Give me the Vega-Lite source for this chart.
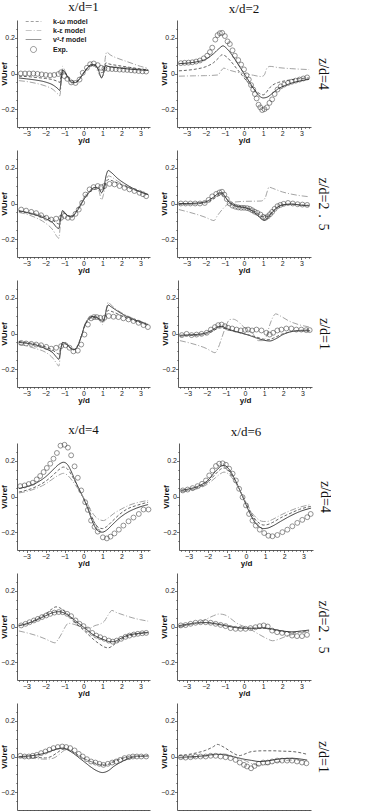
{
  "$schema": "https://vega.github.io/schema/vega-lite/v6.json",
  "background": "white",
  "padding": {"left": 0, "top": 1, "right": 0, "bottom": 0},
  "config": {
    "view": {"stroke": null},
    "font": "Liberation Sans",
    "axis": {"grid": false, "labelOverlap": false, "labelFont": "Liberation Sans", "labelFontSize": 7, "labelColor": "#222", "titleFont": "Liberation Sans", "titleFontSize": 8, "titleFontWeight": "bold", "titleColor": "#111", "domainColor": "#333", "domainWidth": 0.8, "tickColor": "#333", "tickWidth": 0.7},
    "title": {"font": "Liberation Serif", "fontSize": 13, "fontWeight": "normal", "color": "#111", "offset": 4, "anchor": "middle"}
  },
  "datasets": {
    "p11": [
      {"s":"e","x":-3.3,"v":0},{"s":"e","x":-3.08,"v":0},{"s":"e","x":-2.86,"v":0},{"s":"e","x":-2.64,"v":0},{"s":"e","x":-2.42,"v":-0.002},{"s":"e","x":-2.2,"v":-0.005},{"s":"e","x":-1.98,"v":-0.008},{"s":"e","x":-1.76,"v":-0.01},{"s":"e","x":-1.54,"v":-0.008},{"s":"e","x":-1.32,"v":-0.003},{"s":"e","x":-1.18,"v":0.007},{"s":"e","x":-1,"v":-0.015},{"s":"e","x":-0.85,"v":-0.03},{"s":"e","x":-0.65,"v":-0.05},{"s":"e","x":-0.42,"v":-0.053},{"s":"e","x":-0.21,"v":-0.034},{"s":"e","x":-0.04,"v":0.004},{"s":"e","x":0.18,"v":0.032},{"s":"e","x":0.35,"v":0.052},{"s":"e","x":0.54,"v":0.056},{"s":"e","x":0.75,"v":0.047},{"s":"e","x":0.93,"v":0.032},{"s":"e","x":1.1,"v":0.028},{"s":"e","x":1.3,"v":0.026},{"s":"e","x":1.5,"v":0.025},{"s":"e","x":1.7,"v":0.024},{"s":"e","x":1.9,"v":0.022},{"s":"e","x":2.1,"v":0.021},{"s":"e","x":2.3,"v":0.02},{"s":"e","x":2.5,"v":0.018},{"s":"e","x":2.7,"v":0.016},{"s":"e","x":2.9,"v":0.014},{"s":"e","x":3.1,"v":0.012},{"s":"e","x":3.3,"v":0.011},
      {"s":"k","x":-3.4,"v":-0.04},{"s":"k","x":-3,"v":-0.045},{"s":"k","x":-2.5,"v":-0.055},{"s":"k","x":-2,"v":-0.07},{"s":"k","x":-1.6,"v":-0.09},{"s":"k","x":-1.35,"v":-0.115},{"s":"k","x":-1.25,"v":-0.125},{"s":"k","x":-1.15,"v":-0.02},{"s":"k","x":-1.1,"v":0.04},{"s":"k","x":-1,"v":0.02},{"s":"k","x":-0.8,"v":-0.03},{"s":"k","x":-0.6,"v":-0.055},{"s":"k","x":-0.4,"v":-0.05},{"s":"k","x":-0.2,"v":-0.03},{"s":"k","x":0,"v":0},{"s":"k","x":0.2,"v":0.03},{"s":"k","x":0.4,"v":0.045},{"s":"k","x":0.6,"v":0.04},{"s":"k","x":0.8,"v":0},{"s":"k","x":0.95,"v":-0.02},{"s":"k","x":1.05,"v":-0.01},{"s":"k","x":1.15,"v":0.09},{"s":"k","x":1.22,"v":0.12},{"s":"k","x":1.4,"v":0.105},{"s":"k","x":1.8,"v":0.085},{"s":"k","x":2.2,"v":0.07},{"s":"k","x":2.6,"v":0.055},{"s":"k","x":3,"v":0.04},{"s":"k","x":3.4,"v":0.03},
      {"s":"w","x":-3.4,"v":-0.015},{"s":"w","x":-3,"v":-0.017},{"s":"w","x":-2.5,"v":-0.022},{"s":"w","x":-2,"v":-0.028},{"s":"w","x":-1.6,"v":-0.035},{"s":"w","x":-1.35,"v":-0.045},{"s":"w","x":-1.25,"v":-0.05},{"s":"w","x":-1.15,"v":0},{"s":"w","x":-1.05,"v":0.01},{"s":"w","x":-0.8,"v":-0.02},{"s":"w","x":-0.6,"v":-0.04},{"s":"w","x":-0.4,"v":-0.045},{"s":"w","x":-0.2,"v":-0.025},{"s":"w","x":0,"v":0.005},{"s":"w","x":0.2,"v":0.03},{"s":"w","x":0.4,"v":0.045},{"s":"w","x":0.6,"v":0.045},{"s":"w","x":0.8,"v":0.02},{"s":"w","x":0.95,"v":0.005},{"s":"w","x":1.05,"v":0.01},{"s":"w","x":1.18,"v":0.06},{"s":"w","x":1.3,"v":0.055},{"s":"w","x":1.8,"v":0.045},{"s":"w","x":2.4,"v":0.035},{"s":"w","x":3,"v":0.025},{"s":"w","x":3.4,"v":0.02},
      {"s":"v","x":-3.4,"v":-0.025},{"s":"v","x":-3,"v":-0.03},{"s":"v","x":-2.5,"v":-0.037},{"s":"v","x":-2,"v":-0.048},{"s":"v","x":-1.6,"v":-0.065},{"s":"v","x":-1.35,"v":-0.085},{"s":"v","x":-1.25,"v":-0.095},{"s":"v","x":-1.15,"v":-0.01},{"s":"v","x":-1.1,"v":0.02},{"s":"v","x":-1,"v":0.01},{"s":"v","x":-0.8,"v":-0.025},{"s":"v","x":-0.6,"v":-0.05},{"s":"v","x":-0.4,"v":-0.05},{"s":"v","x":-0.2,"v":-0.03},{"s":"v","x":0,"v":0},{"s":"v","x":0.2,"v":0.03},{"s":"v","x":0.4,"v":0.05},{"s":"v","x":0.6,"v":0.05},{"s":"v","x":0.8,"v":0.015},{"s":"v","x":0.95,"v":-0.025},{"s":"v","x":1.05,"v":0},{"s":"v","x":1.15,"v":0.045},{"s":"v","x":1.3,"v":0.04},{"s":"v","x":1.8,"v":0.032},{"s":"v","x":2.4,"v":0.025},{"s":"v","x":3,"v":0.02},{"s":"v","x":3.4,"v":0.017}
    ],
    "p12": [
      {"s":"e","x":-3.3,"v":0.058},{"s":"e","x":-3.1,"v":0.06},{"s":"e","x":-2.9,"v":0.061},{"s":"e","x":-2.7,"v":0.063},{"s":"e","x":-2.5,"v":0.067},{"s":"e","x":-2.3,"v":0.073},{"s":"e","x":-2.1,"v":0.085},{"s":"e","x":-1.92,"v":0.1},{"s":"e","x":-1.78,"v":0.12},{"s":"e","x":-1.66,"v":0.145},{"s":"e","x":-1.5,"v":0.19},{"s":"e","x":-1.38,"v":0.215},{"s":"e","x":-1.26,"v":0.226},{"s":"e","x":-1.14,"v":0.228},{"s":"e","x":-1,"v":0.21},{"s":"e","x":-0.86,"v":0.18},{"s":"e","x":-0.74,"v":0.165},{"s":"e","x":-0.6,"v":0.13},{"s":"e","x":-0.48,"v":0.1},{"s":"e","x":-0.3,"v":0.075},{"s":"e","x":-0.15,"v":0.05},{"s":"e","x":0,"v":0.023},{"s":"e","x":0.13,"v":-0.01},{"s":"e","x":0.25,"v":-0.034},{"s":"e","x":0.37,"v":-0.065},{"s":"e","x":0.48,"v":-0.09},{"s":"e","x":0.57,"v":-0.115},{"s":"e","x":0.66,"v":-0.14},{"s":"e","x":0.76,"v":-0.175},{"s":"e","x":0.85,"v":-0.19},{"s":"e","x":0.95,"v":-0.205},{"s":"e","x":1.07,"v":-0.2},{"s":"e","x":1.2,"v":-0.19},{"s":"e","x":1.33,"v":-0.165},{"s":"e","x":1.47,"v":-0.145},{"s":"e","x":1.6,"v":-0.115},{"s":"e","x":1.75,"v":-0.09},{"s":"e","x":1.92,"v":-0.072},{"s":"e","x":2.1,"v":-0.062},{"s":"e","x":2.3,"v":-0.053},{"s":"e","x":2.5,"v":-0.046},{"s":"e","x":2.7,"v":-0.04},{"s":"e","x":2.9,"v":-0.034},{"s":"e","x":3.1,"v":-0.028},{"s":"e","x":3.3,"v":-0.022},
      {"s":"v","x":-3.4,"v":0.055},{"s":"v","x":-3,"v":0.058},{"s":"v","x":-2.5,"v":0.065},{"s":"v","x":-2,"v":0.08},{"s":"v","x":-1.6,"v":0.11},{"s":"v","x":-1.3,"v":0.14},{"s":"v","x":-1.1,"v":0.155},{"s":"v","x":-0.9,"v":0.14},{"s":"v","x":-0.6,"v":0.1},{"s":"v","x":-0.3,"v":0.05},{"s":"v","x":0,"v":0},{"s":"v","x":0.3,"v":-0.05},{"s":"v","x":0.6,"v":-0.1},{"s":"v","x":0.85,"v":-0.13},{"s":"v","x":1,"v":-0.137},{"s":"v","x":1.2,"v":-0.133},{"s":"v","x":1.5,"v":-0.11},{"s":"v","x":1.8,"v":-0.085},{"s":"v","x":2.2,"v":-0.065},{"s":"v","x":2.6,"v":-0.05},{"s":"v","x":3,"v":-0.04},{"s":"v","x":3.4,"v":-0.032},
      {"s":"w","x":-3.4,"v":0.015},{"s":"w","x":-3,"v":0.018},{"s":"w","x":-2.5,"v":0.025},{"s":"w","x":-2,"v":0.038},{"s":"w","x":-1.6,"v":0.06},{"s":"w","x":-1.3,"v":0.09},{"s":"w","x":-1.15,"v":0.105},{"s":"w","x":-1,"v":0.1},{"s":"w","x":-0.7,"v":0.07},{"s":"w","x":-0.4,"v":0.03},{"s":"w","x":-0.1,"v":-0.01},{"s":"w","x":0.2,"v":-0.05},{"s":"w","x":0.5,"v":-0.085},{"s":"w","x":0.8,"v":-0.112},{"s":"w","x":1,"v":-0.12},{"s":"w","x":1.15,"v":-0.108},{"s":"w","x":1.3,"v":-0.085},{"s":"w","x":1.5,"v":-0.065},{"s":"w","x":1.8,"v":-0.05},{"s":"w","x":2.2,"v":-0.04},{"s":"w","x":2.8,"v":-0.03},{"s":"w","x":3.4,"v":-0.025},
      {"s":"k","x":-3.4,"v":-0.015},{"s":"k","x":-2.6,"v":-0.013},{"s":"k","x":-2,"v":-0.012},{"s":"k","x":-1.35,"v":-0.008},{"s":"k","x":-1.2,"v":0.015},{"s":"k","x":-1.05,"v":0.03},{"s":"k","x":-0.8,"v":0.02},{"s":"k","x":-0.4,"v":0.008},{"s":"k","x":0,"v":0},{"s":"k","x":0.5,"v":-0.01},{"s":"k","x":0.9,"v":-0.017},{"s":"k","x":1.05,"v":-0.01},{"s":"k","x":1.2,"v":0.03},{"s":"k","x":1.35,"v":0.04},{"s":"k","x":1.8,"v":0.033},{"s":"k","x":2.5,"v":0.027},{"s":"k","x":3.4,"v":0.022}
    ],
    "p21": [
      {"s":"e","x":-3.28,"v":-0.034},{"s":"e","x":-3.02,"v":-0.04},{"s":"e","x":-2.75,"v":-0.047},{"s":"e","x":-2.49,"v":-0.054},{"s":"e","x":-2.23,"v":-0.066},{"s":"e","x":-1.96,"v":-0.08},{"s":"e","x":-1.7,"v":-0.09},{"s":"e","x":-1.44,"v":-0.085},{"s":"e","x":-1.18,"v":-0.08},{"s":"e","x":-1,"v":-0.07},{"s":"e","x":-0.82,"v":-0.08},{"s":"e","x":-0.6,"v":-0.08},{"s":"e","x":-0.42,"v":-0.058},{"s":"e","x":-0.25,"v":-0.034},{"s":"e","x":-0.07,"v":0.004},{"s":"e","x":0.1,"v":0.05},{"s":"e","x":0.32,"v":0.079},{"s":"e","x":0.53,"v":0.092},{"s":"e","x":0.75,"v":0.098},{"s":"e","x":0.93,"v":0.092},{"s":"e","x":1.1,"v":0.098},{"s":"e","x":1.37,"v":0.11},{"s":"e","x":1.63,"v":0.107},{"s":"e","x":1.9,"v":0.098},{"s":"e","x":2.16,"v":0.088},{"s":"e","x":2.42,"v":0.079},{"s":"e","x":2.68,"v":0.07},{"s":"e","x":2.95,"v":0.06},{"s":"e","x":3.13,"v":0.052},{"s":"e","x":3.3,"v":0.041},
      {"s":"k","x":-3.4,"v":-0.05},{"s":"k","x":-3,"v":-0.06},{"s":"k","x":-2.5,"v":-0.08},{"s":"k","x":-2,"v":-0.11},{"s":"k","x":-1.6,"v":-0.15},{"s":"k","x":-1.4,"v":-0.185},{"s":"k","x":-1.3,"v":-0.195},{"s":"k","x":-1.2,"v":-0.1},{"s":"k","x":-1.1,"v":-0.04},{"s":"k","x":-1,"v":-0.05},{"s":"k","x":-0.8,"v":-0.07},{"s":"k","x":-0.6,"v":-0.075},{"s":"k","x":-0.4,"v":-0.05},{"s":"k","x":-0.2,"v":-0.01},{"s":"k","x":0,"v":0.03},{"s":"k","x":0.2,"v":0.06},{"s":"k","x":0.4,"v":0.08},{"s":"k","x":0.6,"v":0.09},{"s":"k","x":0.8,"v":0.075},{"s":"k","x":0.95,"v":0.02},{"s":"k","x":1.05,"v":0.05},{"s":"k","x":1.2,"v":0.13},{"s":"k","x":1.3,"v":0.155},{"s":"k","x":1.45,"v":0.15},{"s":"k","x":1.8,"v":0.125},{"s":"k","x":2.2,"v":0.1},{"s":"k","x":2.6,"v":0.08},{"s":"k","x":3,"v":0.065},{"s":"k","x":3.4,"v":0.05},
      {"s":"v","x":-3.4,"v":-0.04},{"s":"v","x":-3,"v":-0.05},{"s":"v","x":-2.5,"v":-0.065},{"s":"v","x":-2,"v":-0.085},{"s":"v","x":-1.6,"v":-0.11},{"s":"v","x":-1.4,"v":-0.135},{"s":"v","x":-1.3,"v":-0.14},{"s":"v","x":-1.2,"v":-0.08},{"s":"v","x":-1.1,"v":-0.04},{"s":"v","x":-1,"v":-0.05},{"s":"v","x":-0.8,"v":-0.07},{"s":"v","x":-0.6,"v":-0.075},{"s":"v","x":-0.4,"v":-0.05},{"s":"v","x":-0.2,"v":-0.02},{"s":"v","x":0,"v":0.02},{"s":"v","x":0.2,"v":0.05},{"s":"v","x":0.4,"v":0.075},{"s":"v","x":0.6,"v":0.09},{"s":"v","x":0.8,"v":0.085},{"s":"v","x":0.95,"v":0.06},{"s":"v","x":1.05,"v":0.08},{"s":"v","x":1.2,"v":0.16},{"s":"v","x":1.3,"v":0.185},{"s":"v","x":1.45,"v":0.175},{"s":"v","x":1.8,"v":0.14},{"s":"v","x":2.2,"v":0.11},{"s":"v","x":2.6,"v":0.085},{"s":"v","x":3,"v":0.065},{"s":"v","x":3.4,"v":0.05},
      {"s":"w","x":-3.4,"v":-0.045},{"s":"w","x":-3,"v":-0.05},{"s":"w","x":-2.5,"v":-0.06},{"s":"w","x":-2,"v":-0.075},{"s":"w","x":-1.6,"v":-0.095},{"s":"w","x":-1.4,"v":-0.11},{"s":"w","x":-1.3,"v":-0.115},{"s":"w","x":-1.2,"v":-0.07},{"s":"w","x":-1.1,"v":-0.05},{"s":"w","x":-1,"v":-0.055},{"s":"w","x":-0.8,"v":-0.07},{"s":"w","x":-0.6,"v":-0.07},{"s":"w","x":-0.4,"v":-0.045},{"s":"w","x":-0.2,"v":-0.015},{"s":"w","x":0,"v":0.02},{"s":"w","x":0.2,"v":0.05},{"s":"w","x":0.4,"v":0.07},{"s":"w","x":0.6,"v":0.08},{"s":"w","x":0.8,"v":0.08},{"s":"w","x":0.95,"v":0.07},{"s":"w","x":1.05,"v":0.075},{"s":"w","x":1.2,"v":0.12},{"s":"w","x":1.3,"v":0.135},{"s":"w","x":1.45,"v":0.13},{"s":"w","x":1.8,"v":0.115},{"s":"w","x":2.2,"v":0.095},{"s":"w","x":2.6,"v":0.08},{"s":"w","x":3,"v":0.065},{"s":"w","x":3.4,"v":0.05}
    ],
    "p22": [
      {"s":"e","x":-3.3,"v":0},{"s":"e","x":-3.05,"v":0},{"s":"e","x":-2.8,"v":0},{"s":"e","x":-2.55,"v":0},{"s":"e","x":-2.3,"v":0},{"s":"e","x":-2.05,"v":0.003},{"s":"e","x":-1.85,"v":0.02},{"s":"e","x":-1.66,"v":0.04},{"s":"e","x":-1.45,"v":0.054},{"s":"e","x":-1.28,"v":0.062},{"s":"e","x":-1.15,"v":0.066},{"s":"e","x":-1.03,"v":0.05},{"s":"e","x":-0.9,"v":0.025},{"s":"e","x":-0.75,"v":0},{"s":"e","x":-0.6,"v":-0.012},{"s":"e","x":-0.45,"v":-0.018},{"s":"e","x":-0.3,"v":-0.022},{"s":"e","x":-0.15,"v":-0.024},{"s":"e","x":0,"v":-0.024},{"s":"e","x":0.16,"v":-0.026},{"s":"e","x":0.3,"v":-0.03},{"s":"e","x":0.43,"v":-0.038},{"s":"e","x":0.56,"v":-0.046},{"s":"e","x":0.7,"v":-0.053},{"s":"e","x":0.86,"v":-0.062},{"s":"e","x":1,"v":-0.075},{"s":"e","x":1.12,"v":-0.08},{"s":"e","x":1.24,"v":-0.072},{"s":"e","x":1.36,"v":-0.06},{"s":"e","x":1.47,"v":-0.047},{"s":"e","x":1.6,"v":-0.03},{"s":"e","x":1.75,"v":-0.015},{"s":"e","x":1.9,"v":-0.008},{"s":"e","x":2.07,"v":-0.002},{"s":"e","x":2.3,"v":0.003},{"s":"e","x":2.55,"v":0},{"s":"e","x":2.8,"v":-0.004},{"s":"e","x":3.05,"v":-0.006},{"s":"e","x":3.3,"v":-0.008},
      {"s":"v","x":-3.4,"v":0},{"s":"v","x":-3,"v":0},{"s":"v","x":-2.5,"v":0.002},{"s":"v","x":-2,"v":0.01},{"s":"v","x":-1.6,"v":0.035},{"s":"v","x":-1.3,"v":0.058},{"s":"v","x":-1.15,"v":0.06},{"s":"v","x":-1,"v":0.04},{"s":"v","x":-0.8,"v":0.01},{"s":"v","x":-0.5,"v":-0.012},{"s":"v","x":-0.2,"v":-0.02},{"s":"v","x":0.1,"v":-0.025},{"s":"v","x":0.4,"v":-0.04},{"s":"v","x":0.7,"v":-0.065},{"s":"v","x":0.95,"v":-0.09},{"s":"v","x":1.05,"v":-0.095},{"s":"v","x":1.2,"v":-0.085},{"s":"v","x":1.4,"v":-0.06},{"s":"v","x":1.7,"v":-0.025},{"s":"v","x":2,"v":-0.008},{"s":"v","x":2.5,"v":-0.003},{"s":"v","x":3,"v":-0.01},{"s":"v","x":3.4,"v":-0.013},
      {"s":"w","x":-3.4,"v":-0.005},{"s":"w","x":-2.5,"v":-0.002},{"s":"w","x":-2,"v":0.005},{"s":"w","x":-1.6,"v":0.025},{"s":"w","x":-1.3,"v":0.045},{"s":"w","x":-1.15,"v":0.048},{"s":"w","x":-1,"v":0.035},{"s":"w","x":-0.7,"v":0.005},{"s":"w","x":-0.4,"v":-0.012},{"s":"w","x":0,"v":-0.02},{"s":"w","x":0.4,"v":-0.035},{"s":"w","x":0.7,"v":-0.055},{"s":"w","x":1,"v":-0.075},{"s":"w","x":1.15,"v":-0.075},{"s":"w","x":1.4,"v":-0.055},{"s":"w","x":1.7,"v":-0.025},{"s":"w","x":2,"v":-0.01},{"s":"w","x":2.5,"v":-0.005},{"s":"w","x":3,"v":-0.008},{"s":"w","x":3.4,"v":-0.01},
      {"s":"k","x":-3.4,"v":-0.034},{"s":"k","x":-3,"v":-0.045},{"s":"k","x":-2.5,"v":-0.06},{"s":"k","x":-2,"v":-0.078},{"s":"k","x":-1.75,"v":-0.09},{"s":"k","x":-1.57,"v":-0.096},{"s":"k","x":-1.4,"v":-0.07},{"s":"k","x":-1.14,"v":-0.034},{"s":"k","x":-0.88,"v":-0.006},{"s":"k","x":-0.5,"v":0.008},{"s":"k","x":0,"v":0.012},{"s":"k","x":0.5,"v":0.013},{"s":"k","x":0.9,"v":0.014},{"s":"k","x":1.1,"v":0.03},{"s":"k","x":1.22,"v":0.07},{"s":"k","x":1.3,"v":0.092},{"s":"k","x":1.5,"v":0.085},{"s":"k","x":2,"v":0.065},{"s":"k","x":2.5,"v":0.052},{"s":"k","x":3,"v":0.043},{"s":"k","x":3.4,"v":0.038}
    ],
    "p31": [
      {"s":"e","x":-3.28,"v":-0.053},{"s":"e","x":-3.02,"v":-0.056},{"s":"e","x":-2.75,"v":-0.058},{"s":"e","x":-2.49,"v":-0.062},{"s":"e","x":-2.23,"v":-0.066},{"s":"e","x":-1.96,"v":-0.075},{"s":"e","x":-1.7,"v":-0.085},{"s":"e","x":-1.44,"v":-0.08},{"s":"e","x":-1.18,"v":-0.071},{"s":"e","x":-0.95,"v":-0.066},{"s":"e","x":-0.74,"v":-0.08},{"s":"e","x":-0.53,"v":-0.1},{"s":"e","x":-0.3,"v":-0.096},{"s":"e","x":-0.12,"v":-0.062},{"s":"e","x":0.05,"v":-0.006},{"s":"e","x":0.23,"v":0.05},{"s":"e","x":0.4,"v":0.085},{"s":"e","x":0.55,"v":0.092},{"s":"e","x":0.7,"v":0.092},{"s":"e","x":0.88,"v":0.088},{"s":"e","x":1.1,"v":0.088},{"s":"e","x":1.33,"v":0.098},{"s":"e","x":1.58,"v":0.094},{"s":"e","x":1.84,"v":0.092},{"s":"e","x":2.1,"v":0.085},{"s":"e","x":2.37,"v":0.079},{"s":"e","x":2.63,"v":0.07},{"s":"e","x":2.9,"v":0.06},{"s":"e","x":3.16,"v":0.047},{"s":"e","x":3.39,"v":0.036},
      {"s":"k","x":-3.4,"v":-0.06},{"s":"k","x":-3,"v":-0.07},{"s":"k","x":-2.5,"v":-0.085},{"s":"k","x":-2,"v":-0.105},{"s":"k","x":-1.6,"v":-0.14},{"s":"k","x":-1.4,"v":-0.17},{"s":"k","x":-1.3,"v":-0.183},{"s":"k","x":-1.2,"v":-0.1},{"s":"k","x":-1.1,"v":-0.05},{"s":"k","x":-0.95,"v":-0.05},{"s":"k","x":-0.7,"v":-0.08},{"s":"k","x":-0.5,"v":-0.095},{"s":"k","x":-0.3,"v":-0.07},{"s":"k","x":-0.1,"v":-0.01},{"s":"k","x":0.1,"v":0.06},{"s":"k","x":0.3,"v":0.09},{"s":"k","x":0.5,"v":0.095},{"s":"k","x":0.7,"v":0.09},{"s":"k","x":0.9,"v":0.065},{"s":"k","x":1,"v":0.05},{"s":"k","x":1.1,"v":0.075},{"s":"k","x":1.22,"v":0.15},{"s":"k","x":1.3,"v":0.175},{"s":"k","x":1.45,"v":0.16},{"s":"k","x":1.8,"v":0.13},{"s":"k","x":2.2,"v":0.105},{"s":"k","x":2.6,"v":0.085},{"s":"k","x":3,"v":0.068},{"s":"k","x":3.4,"v":0.055},
      {"s":"v","x":-3.4,"v":-0.05},{"s":"v","x":-3,"v":-0.055},{"s":"v","x":-2.5,"v":-0.065},{"s":"v","x":-2,"v":-0.085},{"s":"v","x":-1.6,"v":-0.11},{"s":"v","x":-1.4,"v":-0.135},{"s":"v","x":-1.3,"v":-0.145},{"s":"v","x":-1.2,"v":-0.09},{"s":"v","x":-1.1,"v":-0.05},{"s":"v","x":-0.95,"v":-0.055},{"s":"v","x":-0.7,"v":-0.08},{"s":"v","x":-0.5,"v":-0.09},{"s":"v","x":-0.3,"v":-0.07},{"s":"v","x":-0.1,"v":-0.01},{"s":"v","x":0.1,"v":0.055},{"s":"v","x":0.3,"v":0.085},{"s":"v","x":0.5,"v":0.095},{"s":"v","x":0.7,"v":0.09},{"s":"v","x":0.9,"v":0.075},{"s":"v","x":1,"v":0.065},{"s":"v","x":1.1,"v":0.085},{"s":"v","x":1.22,"v":0.14},{"s":"v","x":1.3,"v":0.16},{"s":"v","x":1.45,"v":0.15},{"s":"v","x":1.8,"v":0.125},{"s":"v","x":2.2,"v":0.1},{"s":"v","x":2.6,"v":0.08},{"s":"v","x":3,"v":0.065},{"s":"v","x":3.4,"v":0.05},
      {"s":"w","x":-3.4,"v":-0.045},{"s":"w","x":-3,"v":-0.05},{"s":"w","x":-2.5,"v":-0.06},{"s":"w","x":-2,"v":-0.075},{"s":"w","x":-1.6,"v":-0.095},{"s":"w","x":-1.4,"v":-0.11},{"s":"w","x":-1.3,"v":-0.115},{"s":"w","x":-1.2,"v":-0.08},{"s":"w","x":-1.1,"v":-0.06},{"s":"w","x":-0.95,"v":-0.06},{"s":"w","x":-0.7,"v":-0.08},{"s":"w","x":-0.5,"v":-0.09},{"s":"w","x":-0.3,"v":-0.065},{"s":"w","x":-0.1,"v":-0.01},{"s":"w","x":0.1,"v":0.05},{"s":"w","x":0.3,"v":0.08},{"s":"w","x":0.5,"v":0.09},{"s":"w","x":0.7,"v":0.088},{"s":"w","x":0.9,"v":0.078},{"s":"w","x":1,"v":0.072},{"s":"w","x":1.1,"v":0.085},{"s":"w","x":1.22,"v":0.12},{"s":"w","x":1.3,"v":0.13},{"s":"w","x":1.45,"v":0.125},{"s":"w","x":1.8,"v":0.11},{"s":"w","x":2.2,"v":0.09},{"s":"w","x":2.6,"v":0.075},{"s":"w","x":3,"v":0.06},{"s":"w","x":3.4,"v":0.048}
    ],
    "p32": [
      {"s":"e","x":-3.3,"v":-0.009},{"s":"e","x":-3.05,"v":-0.002},{"s":"e","x":-2.79,"v":-0.009},{"s":"e","x":-2.53,"v":-0.006},{"s":"e","x":-2.27,"v":-0.002},{"s":"e","x":-2,"v":0.004},{"s":"e","x":-1.78,"v":0.022},{"s":"e","x":-1.57,"v":0.036},{"s":"e","x":-1.4,"v":0.047},{"s":"e","x":-1.22,"v":0.05},{"s":"e","x":-1.05,"v":0.041},{"s":"e","x":-0.88,"v":0.032},{"s":"e","x":-0.67,"v":0.028},{"s":"e","x":-0.44,"v":0.022},{"s":"e","x":-0.22,"v":0.017},{"s":"e","x":0,"v":0.02},{"s":"e","x":0.16,"v":0.022},{"s":"e","x":0.37,"v":0.017},{"s":"e","x":0.6,"v":0.022},{"s":"e","x":0.86,"v":0.017},{"s":"e","x":1.12,"v":0.004},{"s":"e","x":1.29,"v":-0.006},{"s":"e","x":1.47,"v":0.004},{"s":"e","x":1.69,"v":0.017},{"s":"e","x":1.9,"v":0.022},{"s":"e","x":2.16,"v":0.028},{"s":"e","x":2.42,"v":0.028},{"s":"e","x":2.68,"v":0.022},{"s":"e","x":2.94,"v":0.022},{"s":"e","x":3.2,"v":0.019},{"s":"e","x":3.38,"v":0.019},
      {"s":"v","x":-3.4,"v":-0.01},{"s":"v","x":-3,"v":-0.008},{"s":"v","x":-2.5,"v":-0.005},{"s":"v","x":-2,"v":0.005},{"s":"v","x":-1.7,"v":0.02},{"s":"v","x":-1.4,"v":0.038},{"s":"v","x":-1.2,"v":0.04},{"s":"v","x":-1,"v":0.03},{"s":"v","x":-0.6,"v":0.015},{"s":"v","x":-0.2,"v":0.003},{"s":"v","x":0.2,"v":-0.01},{"s":"v","x":0.6,"v":-0.025},{"s":"v","x":1,"v":-0.038},{"s":"v","x":1.3,"v":-0.042},{"s":"v","x":1.6,"v":-0.03},{"s":"v","x":2,"v":-0.005},{"s":"v","x":2.4,"v":0.01},{"s":"v","x":2.8,"v":0.015},{"s":"v","x":3.4,"v":0.015},
      {"s":"w","x":-3.4,"v":-0.015},{"s":"w","x":-3,"v":-0.012},{"s":"w","x":-2.5,"v":-0.01},{"s":"w","x":-2,"v":-0.002},{"s":"w","x":-1.7,"v":0.012},{"s":"w","x":-1.4,"v":0.03},{"s":"w","x":-1.2,"v":0.032},{"s":"w","x":-1,"v":0.025},{"s":"w","x":-0.6,"v":0.012},{"s":"w","x":-0.2,"v":0.002},{"s":"w","x":0.2,"v":-0.008},{"s":"w","x":0.6,"v":-0.02},{"s":"w","x":0.9,"v":-0.03},{"s":"w","x":1.2,"v":-0.035},{"s":"w","x":1.5,"v":-0.025},{"s":"w","x":1.9,"v":-0.005},{"s":"w","x":2.4,"v":0.01},{"s":"w","x":2.9,"v":0.018},{"s":"w","x":3.4,"v":0.02},
      {"s":"k","x":-3.4,"v":-0.04},{"s":"k","x":-3,"v":-0.05},{"s":"k","x":-2.5,"v":-0.065},{"s":"k","x":-2,"v":-0.085},{"s":"k","x":-1.75,"v":-0.1},{"s":"k","x":-1.57,"v":-0.108},{"s":"k","x":-1.4,"v":-0.08},{"s":"k","x":-1.2,"v":-0.02},{"s":"k","x":-1,"v":0.04},{"s":"k","x":-0.8,"v":0.078},{"s":"k","x":-0.6,"v":0.08},{"s":"k","x":-0.4,"v":0.07},{"s":"k","x":-0.1,"v":0.04},{"s":"k","x":0.1,"v":0.02},{"s":"k","x":0.35,"v":0.008},{"s":"k","x":0.7,"v":-0.04},{"s":"k","x":0.9,"v":-0.04},{"s":"k","x":1.1,"v":-0.02},{"s":"k","x":1.3,"v":0.05},{"s":"k","x":1.45,"v":0.09},{"s":"k","x":1.6,"v":0.11},{"s":"k","x":1.9,"v":0.095},{"s":"k","x":2.3,"v":0.07},{"s":"k","x":2.8,"v":0.05},{"s":"k","x":3.4,"v":0.036}
    ],
    "p41": [
      {"s":"e","x":-3.33,"v":0.058},{"s":"e","x":-3.1,"v":0.062},{"s":"e","x":-2.88,"v":0.07},{"s":"e","x":-2.67,"v":0.077},{"s":"e","x":-2.46,"v":0.096},{"s":"e","x":-2.28,"v":0.115},{"s":"e","x":-2.1,"v":0.137},{"s":"e","x":-1.93,"v":0.16},{"s":"e","x":-1.75,"v":0.184},{"s":"e","x":-1.58,"v":0.212},{"s":"e","x":-1.4,"v":0.244},{"s":"e","x":-1.21,"v":0.285},{"s":"e","x":-1,"v":0.29},{"s":"e","x":-0.82,"v":0.274},{"s":"e","x":-0.65,"v":0.231},{"s":"e","x":-0.47,"v":0.169},{"s":"e","x":-0.3,"v":0.105},{"s":"e","x":-0.12,"v":0.034},{"s":"e","x":0.09,"v":-0.032},{"s":"e","x":0.23,"v":-0.075},{"s":"e","x":0.4,"v":-0.135},{"s":"e","x":0.58,"v":-0.17},{"s":"e","x":0.75,"v":-0.197},{"s":"e","x":1.02,"v":-0.229},{"s":"e","x":1.23,"v":-0.235},{"s":"e","x":1.42,"v":-0.225},{"s":"e","x":1.63,"v":-0.207},{"s":"e","x":1.86,"v":-0.186},{"s":"e","x":2.1,"v":-0.163},{"s":"e","x":2.37,"v":-0.139},{"s":"e","x":2.63,"v":-0.118},{"s":"e","x":2.91,"v":-0.098},{"s":"e","x":3.16,"v":-0.073},{"s":"e","x":3.42,"v":-0.073},
      {"s":"v","x":-3.4,"v":0.045},{"s":"v","x":-3,"v":0.055},{"s":"v","x":-2.5,"v":0.075},{"s":"v","x":-2,"v":0.11},{"s":"v","x":-1.6,"v":0.15},{"s":"v","x":-1.3,"v":0.18},{"s":"v","x":-1.05,"v":0.192},{"s":"v","x":-0.85,"v":0.18},{"s":"v","x":-0.6,"v":0.13},{"s":"v","x":-0.4,"v":0.08},{"s":"v","x":-0.2,"v":0.035},{"s":"v","x":0,"v":-0.01},{"s":"v","x":0.2,"v":-0.06},{"s":"v","x":0.4,"v":-0.12},{"s":"v","x":0.6,"v":-0.17},{"s":"v","x":0.8,"v":-0.195},{"s":"v","x":1,"v":-0.2},{"s":"v","x":1.2,"v":-0.19},{"s":"v","x":1.5,"v":-0.16},{"s":"v","x":1.9,"v":-0.12},{"s":"v","x":2.3,"v":-0.09},{"s":"v","x":2.8,"v":-0.065},{"s":"v","x":3.4,"v":-0.045},
      {"s":"w","x":-3.4,"v":0.025},{"s":"w","x":-3,"v":0.035},{"s":"w","x":-2.5,"v":0.055},{"s":"w","x":-2,"v":0.085},{"s":"w","x":-1.6,"v":0.12},{"s":"w","x":-1.3,"v":0.15},{"s":"w","x":-1.05,"v":0.165},{"s":"w","x":-0.85,"v":0.155},{"s":"w","x":-0.6,"v":0.115},{"s":"w","x":-0.4,"v":0.075},{"s":"w","x":-0.2,"v":0.03},{"s":"w","x":0,"v":-0.01},{"s":"w","x":0.2,"v":-0.055},{"s":"w","x":0.4,"v":-0.105},{"s":"w","x":0.6,"v":-0.15},{"s":"w","x":0.8,"v":-0.175},{"s":"w","x":1,"v":-0.18},{"s":"w","x":1.2,"v":-0.17},{"s":"w","x":1.5,"v":-0.14},{"s":"w","x":1.9,"v":-0.1},{"s":"w","x":2.3,"v":-0.07},{"s":"w","x":2.8,"v":-0.05},{"s":"w","x":3.4,"v":-0.032},
      {"s":"k","x":-3.4,"v":0.02},{"s":"k","x":-3,"v":0.028},{"s":"k","x":-2.5,"v":0.045},{"s":"k","x":-2,"v":0.07},{"s":"k","x":-1.6,"v":0.1},{"s":"k","x":-1.3,"v":0.12},{"s":"k","x":-1.05,"v":0.13},{"s":"k","x":-0.85,"v":0.12},{"s":"k","x":-0.6,"v":0.09},{"s":"k","x":-0.4,"v":0.06},{"s":"k","x":-0.2,"v":0.03},{"s":"k","x":0,"v":-0.005},{"s":"k","x":0.2,"v":-0.04},{"s":"k","x":0.4,"v":-0.08},{"s":"k","x":0.6,"v":-0.11},{"s":"k","x":0.85,"v":-0.13},{"s":"k","x":1.05,"v":-0.135},{"s":"k","x":1.3,"v":-0.12},{"s":"k","x":1.6,"v":-0.095},{"s":"k","x":2,"v":-0.07},{"s":"k","x":2.5,"v":-0.045},{"s":"k","x":3,"v":-0.03},{"s":"k","x":3.4,"v":-0.022}
    ],
    "p42": [
      {"s":"e","x":-3.3,"v":0.034},{"s":"e","x":-3.05,"v":0.039},{"s":"e","x":-2.79,"v":0.047},{"s":"e","x":-2.53,"v":0.058},{"s":"e","x":-2.3,"v":0.071},{"s":"e","x":-2.09,"v":0.09},{"s":"e","x":-1.92,"v":0.118},{"s":"e","x":-1.75,"v":0.146},{"s":"e","x":-1.57,"v":0.171},{"s":"e","x":-1.4,"v":0.184},{"s":"e","x":-1.22,"v":0.186},{"s":"e","x":-1.05,"v":0.178},{"s":"e","x":-0.88,"v":0.156},{"s":"e","x":-0.7,"v":0.128},{"s":"e","x":-0.53,"v":0.09},{"s":"e","x":-0.36,"v":0.043},{"s":"e","x":-0.18,"v":-0.004},{"s":"e","x":0,"v":-0.05},{"s":"e","x":0.16,"v":-0.098},{"s":"e","x":0.34,"v":-0.135},{"s":"e","x":0.51,"v":-0.163},{"s":"e","x":0.72,"v":-0.186},{"s":"e","x":0.95,"v":-0.205},{"s":"e","x":1.17,"v":-0.22},{"s":"e","x":1.38,"v":-0.223},{"s":"e","x":1.64,"v":-0.216},{"s":"e","x":1.9,"v":-0.2},{"s":"e","x":2.16,"v":-0.186},{"s":"e","x":2.42,"v":-0.167},{"s":"e","x":2.68,"v":-0.148},{"s":"e","x":2.94,"v":-0.131},{"s":"e","x":3.2,"v":-0.116},{"s":"e","x":3.38,"v":-0.098},
      {"s":"v","x":-3.4,"v":0.035},{"s":"v","x":-3,"v":0.042},{"s":"v","x":-2.5,"v":0.058},{"s":"v","x":-2,"v":0.09},{"s":"v","x":-1.6,"v":0.14},{"s":"v","x":-1.3,"v":0.17},{"s":"v","x":-1.15,"v":0.175},{"s":"v","x":-0.9,"v":0.155},{"s":"v","x":-0.6,"v":0.1},{"s":"v","x":-0.3,"v":0.03},{"s":"v","x":-0.1,"v":-0.02},{"s":"v","x":0.1,"v":-0.07},{"s":"v","x":0.3,"v":-0.115},{"s":"v","x":0.5,"v":-0.15},{"s":"v","x":0.7,"v":-0.17},{"s":"v","x":0.9,"v":-0.18},{"s":"v","x":1.1,"v":-0.178},{"s":"v","x":1.4,"v":-0.165},{"s":"v","x":1.8,"v":-0.14},{"s":"v","x":2.3,"v":-0.11},{"s":"v","x":2.8,"v":-0.085},{"s":"v","x":3.4,"v":-0.065},
      {"s":"w","x":-3.4,"v":0.03},{"s":"w","x":-3,"v":0.037},{"s":"w","x":-2.5,"v":0.052},{"s":"w","x":-2,"v":0.08},{"s":"w","x":-1.6,"v":0.125},{"s":"w","x":-1.3,"v":0.155},{"s":"w","x":-1.15,"v":0.16},{"s":"w","x":-0.9,"v":0.145},{"s":"w","x":-0.6,"v":0.095},{"s":"w","x":-0.3,"v":0.03},{"s":"w","x":-0.1,"v":-0.015},{"s":"w","x":0.1,"v":-0.06},{"s":"w","x":0.3,"v":-0.1},{"s":"w","x":0.5,"v":-0.13},{"s":"w","x":0.7,"v":-0.15},{"s":"w","x":0.9,"v":-0.16},{"s":"w","x":1.1,"v":-0.158},{"s":"w","x":1.4,"v":-0.145},{"s":"w","x":1.8,"v":-0.12},{"s":"w","x":2.3,"v":-0.095},{"s":"w","x":2.8,"v":-0.072},{"s":"w","x":3.4,"v":-0.055},
      {"s":"k","x":-3.4,"v":0.025},{"s":"k","x":-3,"v":0.032},{"s":"k","x":-2.5,"v":0.045},{"s":"k","x":-2,"v":0.07},{"s":"k","x":-1.6,"v":0.105},{"s":"k","x":-1.3,"v":0.13},{"s":"k","x":-1.15,"v":0.137},{"s":"k","x":-0.9,"v":0.125},{"s":"k","x":-0.6,"v":0.085},{"s":"k","x":-0.3,"v":0.03},{"s":"k","x":-0.1,"v":-0.01},{"s":"k","x":0.1,"v":-0.05},{"s":"k","x":0.3,"v":-0.09},{"s":"k","x":0.5,"v":-0.115},{"s":"k","x":0.7,"v":-0.133},{"s":"k","x":0.9,"v":-0.14},{"s":"k","x":1.1,"v":-0.14},{"s":"k","x":1.4,"v":-0.128},{"s":"k","x":1.8,"v":-0.105},{"s":"k","x":2.3,"v":-0.08},{"s":"k","x":2.8,"v":-0.06},{"s":"k","x":3.4,"v":-0.045}
    ],
    "p51": [
      {"s":"e","x":-3.28,"v":0.006},{"s":"e","x":-3.05,"v":0.015},{"s":"e","x":-2.84,"v":0.024},{"s":"e","x":-2.61,"v":0.034},{"s":"e","x":-2.4,"v":0.043},{"s":"e","x":-2.18,"v":0.053},{"s":"e","x":-1.96,"v":0.062},{"s":"e","x":-1.75,"v":0.071},{"s":"e","x":-1.53,"v":0.078},{"s":"e","x":-1.3,"v":0.081},{"s":"e","x":-1.09,"v":0.08},{"s":"e","x":-0.86,"v":0.071},{"s":"e","x":-0.65,"v":0.058},{"s":"e","x":-0.42,"v":0.034},{"s":"e","x":-0.21,"v":0.015},{"s":"e","x":0,"v":0.002},{"s":"e","x":0.23,"v":-0.017},{"s":"e","x":0.46,"v":-0.036},{"s":"e","x":0.67,"v":-0.051},{"s":"e","x":0.88,"v":-0.06},{"s":"e","x":1.1,"v":-0.069},{"s":"e","x":1.33,"v":-0.079},{"s":"e","x":1.54,"v":-0.085},{"s":"e","x":1.75,"v":-0.079},{"s":"e","x":1.98,"v":-0.069},{"s":"e","x":2.21,"v":-0.058},{"s":"e","x":2.42,"v":-0.051},{"s":"e","x":2.65,"v":-0.045},{"s":"e","x":2.86,"v":-0.041},{"s":"e","x":3.09,"v":-0.038},{"s":"e","x":3.3,"v":-0.036},
      {"s":"v","x":-3.4,"v":0.005},{"s":"v","x":-3,"v":0.015},{"s":"v","x":-2.5,"v":0.035},{"s":"v","x":-2,"v":0.06},{"s":"v","x":-1.6,"v":0.078},{"s":"v","x":-1.3,"v":0.083},{"s":"v","x":-1,"v":0.075},{"s":"v","x":-0.7,"v":0.055},{"s":"v","x":-0.4,"v":0.03},{"s":"v","x":-0.1,"v":0.005},{"s":"v","x":0.2,"v":-0.02},{"s":"v","x":0.5,"v":-0.045},{"s":"v","x":0.8,"v":-0.062},{"s":"v","x":1.1,"v":-0.075},{"s":"v","x":1.4,"v":-0.085},{"s":"v","x":1.6,"v":-0.085},{"s":"v","x":1.9,"v":-0.07},{"s":"v","x":2.3,"v":-0.05},{"s":"v","x":2.8,"v":-0.04},{"s":"v","x":3.4,"v":-0.033},
      {"s":"w","x":-3.4,"v":0.005},{"s":"w","x":-3,"v":0.015},{"s":"w","x":-2.5,"v":0.04},{"s":"w","x":-2,"v":0.07},{"s":"w","x":-1.7,"v":0.095},{"s":"w","x":-1.45,"v":0.11},{"s":"w","x":-1.25,"v":0.105},{"s":"w","x":-1,"v":0.085},{"s":"w","x":-0.7,"v":0.055},{"s":"w","x":-0.4,"v":0.02},{"s":"w","x":-0.1,"v":-0.01},{"s":"w","x":0.2,"v":-0.04},{"s":"w","x":0.5,"v":-0.07},{"s":"w","x":0.8,"v":-0.095},{"s":"w","x":1.1,"v":-0.115},{"s":"w","x":1.3,"v":-0.12},{"s":"w","x":1.5,"v":-0.11},{"s":"w","x":1.8,"v":-0.085},{"s":"w","x":2.2,"v":-0.06},{"s":"w","x":2.7,"v":-0.045},{"s":"w","x":3.4,"v":-0.035},
      {"s":"k","x":-3.4,"v":-0.025},{"s":"k","x":-3,"v":-0.035},{"s":"k","x":-2.5,"v":-0.05},{"s":"k","x":-2,"v":-0.07},{"s":"k","x":-1.7,"v":-0.085},{"s":"k","x":-1.5,"v":-0.092},{"s":"k","x":-1.35,"v":-0.075},{"s":"k","x":-1.15,"v":-0.04},{"s":"k","x":-0.95,"v":0},{"s":"k","x":-0.8,"v":0.018},{"s":"k","x":-0.6,"v":0.015},{"s":"k","x":-0.3,"v":0.005},{"s":"k","x":0,"v":-0.005},{"s":"k","x":0.3,"v":-0.01},{"s":"k","x":0.6,"v":0.005},{"s":"k","x":0.9,"v":0.015},{"s":"k","x":1.1,"v":0.03},{"s":"k","x":1.3,"v":0.065},{"s":"k","x":1.5,"v":0.09},{"s":"k","x":1.7,"v":0.08},{"s":"k","x":2.1,"v":0.065},{"s":"k","x":2.6,"v":0.048},{"s":"k","x":3,"v":0.038},{"s":"k","x":3.4,"v":0.03}
    ],
    "p52": [
      {"s":"e","x":-3.3,"v":0.006},{"s":"e","x":-3.05,"v":0.008},{"s":"e","x":-2.79,"v":0.015},{"s":"e","x":-2.53,"v":0.021},{"s":"e","x":-2.27,"v":0.024},{"s":"e","x":-2,"v":0.024},{"s":"e","x":-1.74,"v":0.021},{"s":"e","x":-1.48,"v":0.015},{"s":"e","x":-1.22,"v":0.009},{"s":"e","x":-0.96,"v":0.002},{"s":"e","x":-0.7,"v":-0.009},{"s":"e","x":-0.44,"v":-0.013},{"s":"e","x":-0.18,"v":-0.013},{"s":"e","x":0.08,"v":-0.013},{"s":"e","x":0.34,"v":-0.009},{"s":"e","x":0.6,"v":-0.004},{"s":"e","x":0.82,"v":0.002},{"s":"e","x":1.03,"v":0.006},{"s":"e","x":1.24,"v":0},{"s":"e","x":1.47,"v":-0.023},{"s":"e","x":1.73,"v":-0.032},{"s":"e","x":1.99,"v":-0.036},{"s":"e","x":2.25,"v":-0.041},{"s":"e","x":2.51,"v":-0.051},{"s":"e","x":2.77,"v":-0.054},{"s":"e","x":3.03,"v":-0.054},{"s":"e","x":3.29,"v":-0.047},
      {"s":"v","x":-3.4,"v":0.005},{"s":"v","x":-3,"v":0.012},{"s":"v","x":-2.5,"v":0.02},{"s":"v","x":-2,"v":0.022},{"s":"v","x":-1.5,"v":0.015},{"s":"v","x":-1,"v":0.005},{"s":"v","x":-0.5,"v":-0.005},{"s":"v","x":0,"v":-0.01},{"s":"v","x":0.5,"v":-0.01},{"s":"v","x":1,"v":-0.008},{"s":"v","x":1.5,"v":-0.015},{"s":"v","x":2,"v":-0.025},{"s":"v","x":2.5,"v":-0.03},{"s":"v","x":3,"v":-0.025},{"s":"v","x":3.4,"v":-0.02},
      {"s":"w","x":-3.4,"v":0},{"s":"w","x":-3,"v":0.008},{"s":"w","x":-2.5,"v":0.018},{"s":"w","x":-2,"v":0.022},{"s":"w","x":-1.5,"v":0.018},{"s":"w","x":-1,"v":0.008},{"s":"w","x":-0.5,"v":-0.003},{"s":"w","x":0,"v":-0.008},{"s":"w","x":0.5,"v":-0.01},{"s":"w","x":1,"v":-0.01},{"s":"w","x":1.5,"v":-0.018},{"s":"w","x":2,"v":-0.028},{"s":"w","x":2.5,"v":-0.033},{"s":"w","x":3,"v":-0.03},{"s":"w","x":3.4,"v":-0.025},
      {"s":"k","x":-3.4,"v":-0.005},{"s":"k","x":-3,"v":0.005},{"s":"k","x":-2.5,"v":0.02},{"s":"k","x":-2,"v":0.04},{"s":"k","x":-1.6,"v":0.06},{"s":"k","x":-1.3,"v":0.07},{"s":"k","x":-1,"v":0.065},{"s":"k","x":-0.7,"v":0.045},{"s":"k","x":-0.4,"v":0.02},{"s":"k","x":0,"v":0},{"s":"k","x":0.4,"v":-0.02},{"s":"k","x":0.8,"v":-0.045},{"s":"k","x":1.2,"v":-0.068},{"s":"k","x":1.5,"v":-0.08},{"s":"k","x":1.8,"v":-0.072},{"s":"k","x":2.2,"v":-0.055},{"s":"k","x":2.7,"v":-0.04},{"s":"k","x":3.4,"v":-0.028}
    ],
    "p61": [
      {"s":"e","x":-3.33,"v":0.004},{"s":"e","x":-3.1,"v":0},{"s":"e","x":-2.88,"v":0},{"s":"e","x":-2.67,"v":0.004},{"s":"e","x":-2.46,"v":0.009},{"s":"e","x":-2.23,"v":0.019},{"s":"e","x":-2,"v":0.028},{"s":"e","x":-1.79,"v":0.038},{"s":"e","x":-1.58,"v":0.047},{"s":"e","x":-1.35,"v":0.053},{"s":"e","x":-1.12,"v":0.056},{"s":"e","x":-0.91,"v":0.053},{"s":"e","x":-0.7,"v":0.047},{"s":"e","x":-0.47,"v":0.034},{"s":"e","x":-0.25,"v":0.015},{"s":"e","x":-0.04,"v":0},{"s":"e","x":0.18,"v":-0.015},{"s":"e","x":0.4,"v":-0.028},{"s":"e","x":0.63,"v":-0.034},{"s":"e","x":0.84,"v":-0.041},{"s":"e","x":1.05,"v":-0.047},{"s":"e","x":1.28,"v":-0.041},{"s":"e","x":1.51,"v":-0.034},{"s":"e","x":1.72,"v":-0.028},{"s":"e","x":1.93,"v":-0.019},{"s":"e","x":2.16,"v":-0.009},{"s":"e","x":2.39,"v":-0.004},{"s":"e","x":2.6,"v":0},{"s":"e","x":2.81,"v":0},{"s":"e","x":3.04,"v":0},{"s":"e","x":3.3,"v":0},
      {"s":"v","x":-3.4,"v":0},{"s":"v","x":-3,"v":0.002},{"s":"v","x":-2.5,"v":0.008},{"s":"v","x":-2,"v":0.02},{"s":"v","x":-1.6,"v":0.035},{"s":"v","x":-1.3,"v":0.045},{"s":"v","x":-1.05,"v":0.047},{"s":"v","x":-0.8,"v":0.035},{"s":"v","x":-0.5,"v":0.015},{"s":"v","x":-0.2,"v":-0.01},{"s":"v","x":0.1,"v":-0.035},{"s":"v","x":0.4,"v":-0.06},{"s":"v","x":0.7,"v":-0.08},{"s":"v","x":1,"v":-0.09},{"s":"v","x":1.3,"v":-0.08},{"s":"v","x":1.6,"v":-0.055},{"s":"v","x":2,"v":-0.03},{"s":"v","x":2.4,"v":-0.01},{"s":"v","x":2.8,"v":0},{"s":"v","x":3.4,"v":0.002},
      {"s":"w","x":-3.4,"v":0},{"s":"w","x":-3,"v":-0.002},{"s":"w","x":-2.5,"v":-0.005},{"s":"w","x":-2,"v":-0.008},{"s":"w","x":-1.7,"v":0},{"s":"w","x":-1.4,"v":0.02},{"s":"w","x":-1.1,"v":0.04},{"s":"w","x":-0.9,"v":0.042},{"s":"w","x":-0.6,"v":0.03},{"s":"w","x":-0.3,"v":0.01},{"s":"w","x":0,"v":-0.01},{"s":"w","x":0.3,"v":-0.025},{"s":"w","x":0.7,"v":-0.042},{"s":"w","x":1,"v":-0.05},{"s":"w","x":1.3,"v":-0.045},{"s":"w","x":1.6,"v":-0.03},{"s":"w","x":2,"v":-0.012},{"s":"w","x":2.5,"v":0},{"s":"w","x":3,"v":0.003},{"s":"w","x":3.4,"v":0.003},
      {"s":"k","x":-3.4,"v":-0.005},{"s":"k","x":-3,"v":-0.008},{"s":"k","x":-2.5,"v":-0.012},{"s":"k","x":-2,"v":-0.015},{"s":"k","x":-1.6,"v":-0.01},{"s":"k","x":-1.3,"v":0.01},{"s":"k","x":-1,"v":0.035},{"s":"k","x":-0.8,"v":0.04},{"s":"k","x":-0.5,"v":0.02},{"s":"k","x":-0.2,"v":0},{"s":"k","x":0.2,"v":-0.02},{"s":"k","x":0.6,"v":-0.035},{"s":"k","x":1,"v":-0.045},{"s":"k","x":1.3,"v":-0.04},{"s":"k","x":1.7,"v":-0.02},{"s":"k","x":2.2,"v":-0.005},{"s":"k","x":2.8,"v":0},{"s":"k","x":3.4,"v":0}
    ],
    "p62": [
      {"s":"e","x":-3.3,"v":-0.004},{"s":"e","x":-3.05,"v":-0.006},{"s":"e","x":-2.79,"v":-0.004},{"s":"e","x":-2.53,"v":0},{"s":"e","x":-2.27,"v":0},{"s":"e","x":-2,"v":0},{"s":"e","x":-1.74,"v":0.004},{"s":"e","x":-1.48,"v":0.004},{"s":"e","x":-1.22,"v":0},{"s":"e","x":-0.96,"v":-0.004},{"s":"e","x":-0.7,"v":-0.009},{"s":"e","x":-0.44,"v":-0.019},{"s":"e","x":-0.22,"v":-0.034},{"s":"e","x":0,"v":-0.047},{"s":"e","x":0.16,"v":-0.056},{"s":"e","x":0.37,"v":-0.066},{"s":"e","x":0.55,"v":-0.053},{"s":"e","x":0.77,"v":-0.041},{"s":"e","x":1,"v":-0.034},{"s":"e","x":1.24,"v":-0.034},{"s":"e","x":1.47,"v":-0.028},{"s":"e","x":1.73,"v":-0.023},{"s":"e","x":1.99,"v":-0.023},{"s":"e","x":2.25,"v":-0.023},{"s":"e","x":2.51,"v":-0.023},{"s":"e","x":2.77,"v":-0.028},{"s":"e","x":3.03,"v":-0.034},{"s":"e","x":3.26,"v":-0.038},
      {"s":"w","x":-3.4,"v":0.005},{"s":"w","x":-3,"v":0.01},{"s":"w","x":-2.5,"v":0.02},{"s":"w","x":-2,"v":0.035},{"s":"w","x":-1.6,"v":0.055},{"s":"w","x":-1.4,"v":0.068},{"s":"w","x":-1.1,"v":0.055},{"s":"w","x":-0.8,"v":0.035},{"s":"w","x":-0.5,"v":0.015},{"s":"w","x":-0.25,"v":0.005},{"s":"w","x":0,"v":0.012},{"s":"w","x":0.3,"v":0.025},{"s":"w","x":0.6,"v":0.03},{"s":"w","x":1,"v":0.032},{"s":"w","x":1.5,"v":0.032},{"s":"w","x":2,"v":0.03},{"s":"w","x":2.5,"v":0.028},{"s":"w","x":3,"v":0.02},{"s":"w","x":3.3,"v":0.012},
      {"s":"v","x":-3.4,"v":-0.005},{"s":"v","x":-3,"v":-0.003},{"s":"v","x":-2.5,"v":0},{"s":"v","x":-2,"v":0.005},{"s":"v","x":-1.5,"v":0.012},{"s":"v","x":-1.2,"v":0.012},{"s":"v","x":-0.8,"v":0.005},{"s":"v","x":-0.4,"v":-0.005},{"s":"v","x":0,"v":-0.015},{"s":"v","x":0.4,"v":-0.022},{"s":"v","x":0.8,"v":-0.028},{"s":"v","x":1.2,"v":-0.025},{"s":"v","x":1.6,"v":-0.018},{"s":"v","x":2,"v":-0.012},{"s":"v","x":2.5,"v":-0.01},{"s":"v","x":3,"v":-0.015},{"s":"v","x":3.3,"v":-0.02},
      {"s":"k","x":-3.4,"v":-0.008},{"s":"k","x":-3,"v":-0.008},{"s":"k","x":-2.5,"v":-0.005},{"s":"k","x":-2,"v":0},{"s":"k","x":-1.5,"v":0.01},{"s":"k","x":-1.2,"v":0.015},{"s":"k","x":-0.8,"v":0.01},{"s":"k","x":-0.4,"v":-0.005},{"s":"k","x":0,"v":-0.02},{"s":"k","x":0.4,"v":-0.04},{"s":"k","x":0.8,"v":-0.05},{"s":"k","x":1.2,"v":-0.045},{"s":"k","x":1.6,"v":-0.035},{"s":"k","x":2,"v":-0.025},{"s":"k","x":2.5,"v":-0.02},{"s":"k","x":3,"v":-0.02},{"s":"k","x":3.3,"v":-0.022}
    ]
  },
  "spacing": 18,
  "resolve": {"scale": {"color": "independent", "strokeDash": "independent", "shape": "independent"}},
  "vconcat": [
    {
      "spacing": 5,
      "resolve": {"scale": {"color": "independent", "strokeDash": "independent", "shape": "independent"}},
      "vconcat": [
        {
          "spacing": 9,
          "resolve": {"scale": {"color": "independent", "strokeDash": "independent", "shape": "independent"}},
          "hconcat": [
            {
              "data": {"name": "p11"}, "width": 133, "height": 107,
              "title": {"text": "x/d=1"},
              "layer": [
                {"transform": [{"filter": "datum.s != 'e'"}],
                 "mark": {"type": "line", "strokeWidth": 0.9, "interpolate": "monotone"},
                 "encoding": {
                   "x": {"field": "x", "type": "quantitative", "scale": {"domain": [-3.5, 3.5], "nice": false, "zero": false}, "axis": {"title": "y/d", "values": [-3,-2,-1,0,1,2,3], "format": "d", "tickSize": 2.5, "labelPadding": 0, "titlePadding": 0}},
                   "y": {"field": "v", "type": "quantitative", "scale": {"domain": [-0.3, 0.3], "nice": false, "zero": false}, "axis": {"title": "V/Uref", "values": [-0.25,-0.2,-0.15,-0.1,-0.05,0,0.05,0.1,0.15,0.2,0.25], "labelExpr": "abs(datum.value*5-round(datum.value*5))<0.01 ? (abs(datum.value)<0.01 ? '0' : format(datum.value,'.1f')) : ''", "tickSize": {"condition": {"test": "abs(datum.value*5-round(datum.value*5))<0.01", "value": 2.5}, "value": 1.2}, "labelPadding": 0, "titlePadding": -8}},
                   "color": {"field": "s", "type": "nominal", "scale": {"domain": ["w","k","v","e"], "range": ["#555","#999","#222","#333"]}, "legend": {"orient": "none", "legendX": 13, "legendY": -2, "title": null, "labelFont": "Liberation Sans", "labelFontSize": 7, "labelFontWeight": "bold", "labelColor": "#222", "labelOffset": 16, "symbolSize": 36, "symbolStrokeWidth": 0.8, "rowPadding": 1, "padding": 0, "labelExpr": "datum.value=='w' ? 'k-ω model' : datum.value=='k' ? 'k-ε model' : datum.value=='v' ? 'v²-f model' : 'Exp.'"}},
                   "strokeDash": {"field": "s", "type": "nominal", "scale": {"domain": ["w","k","v","e"], "range": [[3,2],[6,2,1,2],[1,0],[1,0]]}, "legend": {"orient": "none", "legendX": 13, "legendY": -2, "title": null, "labelFont": "Liberation Sans", "labelFontSize": 7, "labelFontWeight": "bold", "labelColor": "#222", "labelOffset": 16, "symbolSize": 36, "symbolStrokeWidth": 0.8, "rowPadding": 1, "padding": 0, "labelExpr": "datum.value=='w' ? 'k-ω model' : datum.value=='k' ? 'k-ε model' : datum.value=='v' ? 'v²-f model' : 'Exp.'"}}
                 }},
                {"transform": [{"filter": "datum.s == 'e'"}],
                 "mark": {"type": "point", "filled": false, "size": 24, "strokeWidth": 0.75},
                 "encoding": {
                   "x": {"field": "x", "type": "quantitative", "scale": {"domain": [-3.5, 3.5], "nice": false, "zero": false}, "axis": {"orient": "bottom", "values": [-3.4,-3.2,-2.8,-2.6,-2.4,-2.2,-1.8,-1.6,-1.4,-1.2,-0.8,-0.6,-0.4,-0.2,0.2,0.4,0.6,0.8,1.2,1.4,1.6,1.8,2.2,2.4,2.6,2.8,3.2,3.4], "labels": false, "title": null, "domain": false, "tickSize": 1.3}},
                   "y": {"field": "v", "type": "quantitative", "scale": {"domain": [-0.3, 0.3], "nice": false, "zero": false}, "axis": null},
                   "color": {"field": "s", "type": "nominal", "scale": {"domain": ["w","k","v","e"], "range": ["#555","#999","#222","#333"]}, "legend": {"orient": "none", "legendX": 13, "legendY": -2, "title": null, "labelFont": "Liberation Sans", "labelFontSize": 7, "labelFontWeight": "bold", "labelColor": "#222", "labelOffset": 16, "symbolSize": 36, "symbolStrokeWidth": 0.8, "rowPadding": 1, "padding": 0, "labelExpr": "datum.value=='w' ? 'k-ω model' : datum.value=='k' ? 'k-ε model' : datum.value=='v' ? 'v²-f model' : 'Exp.'"}},
                   "shape": {"field": "s", "type": "nominal", "scale": {"domain": ["w","k","v","e"], "range": ["M-2.6,0H2.6","M-2.6,0H2.6","M-2.6,0H2.6","circle"]}, "legend": {"orient": "none", "legendX": 13, "legendY": -2, "title": null, "labelFont": "Liberation Sans", "labelFontSize": 7, "labelFontWeight": "bold", "labelColor": "#222", "labelOffset": 16, "symbolSize": 36, "symbolStrokeWidth": 0.8, "rowPadding": 1, "padding": 0, "labelExpr": "datum.value=='w' ? 'k-ω model' : datum.value=='k' ? 'k-ε model' : datum.value=='v' ? 'v²-f model' : 'Exp.'"}}
                 }}
              ],
              "resolve": {"axis": {"x": "independent", "y": "independent"}}
            },
            {
              "data": {"name": "p12"}, "width": 134, "height": 107,
              "title": {"text": "x/d=2"},
              "layer": [
                {"transform": [{"filter": "datum.s != 'e'"}],
                 "mark": {"type": "line", "strokeWidth": 0.9, "interpolate": "monotone"},
                 "encoding": {
                   "x": {"field": "x", "type": "quantitative", "scale": {"domain": [-3.5, 3.5], "nice": false, "zero": false}, "axis": {"title": "y/d", "values": [-3,-2,-1,0,1,2,3], "format": "d", "tickSize": 2.5, "labelPadding": 0, "titlePadding": 0}},
                   "y": {"field": "v", "type": "quantitative", "scale": {"domain": [-0.3, 0.3], "nice": false, "zero": false}, "axis": {"title": "V/Uref", "values": [-0.25,-0.2,-0.15,-0.1,-0.05,0,0.05,0.1,0.15,0.2,0.25], "labelExpr": "abs(datum.value*5-round(datum.value*5))<0.01 ? (abs(datum.value)<0.01 ? '0' : format(datum.value,'.1f')) : ''", "tickSize": {"condition": {"test": "abs(datum.value*5-round(datum.value*5))<0.01", "value": 2.5}, "value": 1.2}, "labelPadding": 0, "titlePadding": -8}},
                   "color": {"field": "s", "type": "nominal", "scale": {"domain": ["w","k","v","e"], "range": ["#555","#999","#222","#333"]}, "legend": null},
                   "strokeDash": {"field": "s", "type": "nominal", "scale": {"domain": ["w","k","v","e"], "range": [[3,2],[6,2,1,2],[1,0],[1,0]]}, "legend": null}
                 }},
                {"transform": [{"filter": "datum.s == 'e'"}],
                 "mark": {"type": "point", "shape": "circle", "filled": false, "size": 24, "strokeWidth": 0.75, "color": "#333"},
                 "encoding": {
                   "x": {"field": "x", "type": "quantitative", "scale": {"domain": [-3.5, 3.5], "nice": false, "zero": false}, "axis": {"orient": "bottom", "values": [-3.4,-3.2,-2.8,-2.6,-2.4,-2.2,-1.8,-1.6,-1.4,-1.2,-0.8,-0.6,-0.4,-0.2,0.2,0.4,0.6,0.8,1.2,1.4,1.6,1.8,2.2,2.4,2.6,2.8,3.2,3.4], "labels": false, "title": null, "domain": false, "tickSize": 1.3}},
                   "y": {"field": "v", "type": "quantitative", "scale": {"domain": [-0.3, 0.3], "nice": false, "zero": false}, "axis": {"orient": "right", "title": "z/d=4", "domain": false, "ticks": false, "labels": false, "titleFont": "Liberation Serif", "titleFontSize": 14, "titleFontWeight": "normal", "titleColor": "#111", "titleAngle": 90, "titlePadding": 4}}
                 }}
              ],
              "resolve": {"axis": {"x": "independent", "y": "independent"}}
            }
          ]
        },
        {
          "spacing": 9,
          "resolve": {"scale": {"color": "independent", "strokeDash": "independent", "shape": "independent"}},
          "hconcat": [
            {
              "data": {"name": "p21"}, "width": 133, "height": 107,
              "layer": [
                {"transform": [{"filter": "datum.s != 'e'"}],
                 "mark": {"type": "line", "strokeWidth": 0.9, "interpolate": "monotone"},
                 "encoding": {
                   "x": {"field": "x", "type": "quantitative", "scale": {"domain": [-3.5, 3.5], "nice": false, "zero": false}, "axis": {"title": "y/d", "values": [-3,-2,-1,0,1,2,3], "format": "d", "tickSize": 2.5, "labelPadding": 0, "titlePadding": 0}},
                   "y": {"field": "v", "type": "quantitative", "scale": {"domain": [-0.3, 0.3], "nice": false, "zero": false}, "axis": {"title": "V/Uref", "values": [-0.25,-0.2,-0.15,-0.1,-0.05,0,0.05,0.1,0.15,0.2,0.25], "labelExpr": "abs(datum.value*5-round(datum.value*5))<0.01 ? (abs(datum.value)<0.01 ? '0' : format(datum.value,'.1f')) : ''", "tickSize": {"condition": {"test": "abs(datum.value*5-round(datum.value*5))<0.01", "value": 2.5}, "value": 1.2}, "labelPadding": 0, "titlePadding": -8}},
                   "color": {"field": "s", "type": "nominal", "scale": {"domain": ["w","k","v","e"], "range": ["#555","#999","#222","#333"]}, "legend": null},
                   "strokeDash": {"field": "s", "type": "nominal", "scale": {"domain": ["w","k","v","e"], "range": [[3,2],[6,2,1,2],[1,0],[1,0]]}, "legend": null}
                 }},
                {"transform": [{"filter": "datum.s == 'e'"}],
                 "mark": {"type": "point", "shape": "circle", "filled": false, "size": 24, "strokeWidth": 0.75, "color": "#333"},
                 "encoding": {
                   "x": {"field": "x", "type": "quantitative", "scale": {"domain": [-3.5, 3.5], "nice": false, "zero": false}, "axis": {"orient": "bottom", "values": [-3.4,-3.2,-2.8,-2.6,-2.4,-2.2,-1.8,-1.6,-1.4,-1.2,-0.8,-0.6,-0.4,-0.2,0.2,0.4,0.6,0.8,1.2,1.4,1.6,1.8,2.2,2.4,2.6,2.8,3.2,3.4], "labels": false, "title": null, "domain": false, "tickSize": 1.3}},
                   "y": {"field": "v", "type": "quantitative", "scale": {"domain": [-0.3, 0.3], "nice": false, "zero": false}, "axis": null}
                 }}
              ],
              "resolve": {"axis": {"x": "independent", "y": "independent"}}
            },
            {
              "data": {"name": "p22"}, "width": 134, "height": 107,
              "layer": [
                {"transform": [{"filter": "datum.s != 'e'"}],
                 "mark": {"type": "line", "strokeWidth": 0.9, "interpolate": "monotone"},
                 "encoding": {
                   "x": {"field": "x", "type": "quantitative", "scale": {"domain": [-3.5, 3.5], "nice": false, "zero": false}, "axis": {"title": "y/d", "values": [-3,-2,-1,0,1,2,3], "format": "d", "tickSize": 2.5, "labelPadding": 0, "titlePadding": 0}},
                   "y": {"field": "v", "type": "quantitative", "scale": {"domain": [-0.3, 0.3], "nice": false, "zero": false}, "axis": {"title": "V/Uref", "values": [-0.25,-0.2,-0.15,-0.1,-0.05,0,0.05,0.1,0.15,0.2,0.25], "labelExpr": "abs(datum.value*5-round(datum.value*5))<0.01 ? (abs(datum.value)<0.01 ? '0' : format(datum.value,'.1f')) : ''", "tickSize": {"condition": {"test": "abs(datum.value*5-round(datum.value*5))<0.01", "value": 2.5}, "value": 1.2}, "labelPadding": 0, "titlePadding": -8}},
                   "color": {"field": "s", "type": "nominal", "scale": {"domain": ["w","k","v","e"], "range": ["#555","#999","#222","#333"]}, "legend": null},
                   "strokeDash": {"field": "s", "type": "nominal", "scale": {"domain": ["w","k","v","e"], "range": [[3,2],[6,2,1,2],[1,0],[1,0]]}, "legend": null}
                 }},
                {"transform": [{"filter": "datum.s == 'e'"}],
                 "mark": {"type": "point", "shape": "circle", "filled": false, "size": 24, "strokeWidth": 0.75, "color": "#333"},
                 "encoding": {
                   "x": {"field": "x", "type": "quantitative", "scale": {"domain": [-3.5, 3.5], "nice": false, "zero": false}, "axis": {"orient": "bottom", "values": [-3.4,-3.2,-2.8,-2.6,-2.4,-2.2,-1.8,-1.6,-1.4,-1.2,-0.8,-0.6,-0.4,-0.2,0.2,0.4,0.6,0.8,1.2,1.4,1.6,1.8,2.2,2.4,2.6,2.8,3.2,3.4], "labels": false, "title": null, "domain": false, "tickSize": 1.3}},
                   "y": {"field": "v", "type": "quantitative", "scale": {"domain": [-0.3, 0.3], "nice": false, "zero": false}, "axis": {"orient": "right", "title": "z/d=2．5", "domain": false, "ticks": false, "labels": false, "titleFont": "Liberation Serif", "titleFontSize": 14, "titleFontWeight": "normal", "titleColor": "#111", "titleAngle": 90, "titlePadding": 4}}
                 }}
              ],
              "resolve": {"axis": {"x": "independent", "y": "independent"}}
            }
          ]
        },
        {
          "spacing": 9,
          "resolve": {"scale": {"color": "independent", "strokeDash": "independent", "shape": "independent"}},
          "hconcat": [
            {
              "data": {"name": "p31"}, "width": 133, "height": 107,
              "layer": [
                {"transform": [{"filter": "datum.s != 'e'"}],
                 "mark": {"type": "line", "strokeWidth": 0.9, "interpolate": "monotone"},
                 "encoding": {
                   "x": {"field": "x", "type": "quantitative", "scale": {"domain": [-3.5, 3.5], "nice": false, "zero": false}, "axis": {"title": "y/d", "values": [-3,-2,-1,0,1,2,3], "format": "d", "tickSize": 2.5, "labelPadding": 0, "titlePadding": 0}},
                   "y": {"field": "v", "type": "quantitative", "scale": {"domain": [-0.3, 0.3], "nice": false, "zero": false}, "axis": {"title": "V/Uref", "values": [-0.25,-0.2,-0.15,-0.1,-0.05,0,0.05,0.1,0.15,0.2,0.25], "labelExpr": "abs(datum.value*5-round(datum.value*5))<0.01 ? (abs(datum.value)<0.01 ? '0' : format(datum.value,'.1f')) : ''", "tickSize": {"condition": {"test": "abs(datum.value*5-round(datum.value*5))<0.01", "value": 2.5}, "value": 1.2}, "labelPadding": 0, "titlePadding": -8}},
                   "color": {"field": "s", "type": "nominal", "scale": {"domain": ["w","k","v","e"], "range": ["#555","#999","#222","#333"]}, "legend": null},
                   "strokeDash": {"field": "s", "type": "nominal", "scale": {"domain": ["w","k","v","e"], "range": [[3,2],[6,2,1,2],[1,0],[1,0]]}, "legend": null}
                 }},
                {"transform": [{"filter": "datum.s == 'e'"}],
                 "mark": {"type": "point", "shape": "circle", "filled": false, "size": 24, "strokeWidth": 0.75, "color": "#333"},
                 "encoding": {
                   "x": {"field": "x", "type": "quantitative", "scale": {"domain": [-3.5, 3.5], "nice": false, "zero": false}, "axis": {"orient": "bottom", "values": [-3.4,-3.2,-2.8,-2.6,-2.4,-2.2,-1.8,-1.6,-1.4,-1.2,-0.8,-0.6,-0.4,-0.2,0.2,0.4,0.6,0.8,1.2,1.4,1.6,1.8,2.2,2.4,2.6,2.8,3.2,3.4], "labels": false, "title": null, "domain": false, "tickSize": 1.3}},
                   "y": {"field": "v", "type": "quantitative", "scale": {"domain": [-0.3, 0.3], "nice": false, "zero": false}, "axis": null}
                 }}
              ],
              "resolve": {"axis": {"x": "independent", "y": "independent"}}
            },
            {
              "data": {"name": "p32"}, "width": 134, "height": 107,
              "layer": [
                {"transform": [{"filter": "datum.s != 'e'"}],
                 "mark": {"type": "line", "strokeWidth": 0.9, "interpolate": "monotone"},
                 "encoding": {
                   "x": {"field": "x", "type": "quantitative", "scale": {"domain": [-3.5, 3.5], "nice": false, "zero": false}, "axis": {"title": "y/d", "values": [-3,-2,-1,0,1,2,3], "format": "d", "tickSize": 2.5, "labelPadding": 0, "titlePadding": 0}},
                   "y": {"field": "v", "type": "quantitative", "scale": {"domain": [-0.3, 0.3], "nice": false, "zero": false}, "axis": {"title": "V/Uref", "values": [-0.25,-0.2,-0.15,-0.1,-0.05,0,0.05,0.1,0.15,0.2,0.25], "labelExpr": "abs(datum.value*5-round(datum.value*5))<0.01 ? (abs(datum.value)<0.01 ? '0' : format(datum.value,'.1f')) : ''", "tickSize": {"condition": {"test": "abs(datum.value*5-round(datum.value*5))<0.01", "value": 2.5}, "value": 1.2}, "labelPadding": 0, "titlePadding": -8}},
                   "color": {"field": "s", "type": "nominal", "scale": {"domain": ["w","k","v","e"], "range": ["#555","#999","#222","#333"]}, "legend": null},
                   "strokeDash": {"field": "s", "type": "nominal", "scale": {"domain": ["w","k","v","e"], "range": [[3,2],[6,2,1,2],[1,0],[1,0]]}, "legend": null}
                 }},
                {"transform": [{"filter": "datum.s == 'e'"}],
                 "mark": {"type": "point", "shape": "circle", "filled": false, "size": 24, "strokeWidth": 0.75, "color": "#333"},
                 "encoding": {
                   "x": {"field": "x", "type": "quantitative", "scale": {"domain": [-3.5, 3.5], "nice": false, "zero": false}, "axis": {"orient": "bottom", "values": [-3.4,-3.2,-2.8,-2.6,-2.4,-2.2,-1.8,-1.6,-1.4,-1.2,-0.8,-0.6,-0.4,-0.2,0.2,0.4,0.6,0.8,1.2,1.4,1.6,1.8,2.2,2.4,2.6,2.8,3.2,3.4], "labels": false, "title": null, "domain": false, "tickSize": 1.3}},
                   "y": {"field": "v", "type": "quantitative", "scale": {"domain": [-0.3, 0.3], "nice": false, "zero": false}, "axis": {"orient": "right", "title": "z/d=1", "domain": false, "ticks": false, "labels": false, "titleFont": "Liberation Serif", "titleFontSize": 14, "titleFontWeight": "normal", "titleColor": "#111", "titleAngle": 90, "titlePadding": 4}}
                 }}
              ],
              "resolve": {"axis": {"x": "independent", "y": "independent"}}
            }
          ]
        }
      ]
    },
    {
      "spacing": 5,
      "resolve": {"scale": {"color": "independent", "strokeDash": "independent", "shape": "independent"}},
      "vconcat": [
        {
          "spacing": 9,
          "resolve": {"scale": {"color": "independent", "strokeDash": "independent", "shape": "independent"}},
          "hconcat": [
            {
              "data": {"name": "p41"}, "width": 133, "height": 107,
              "title": {"text": "x/d=4"},
              "layer": [
                {"transform": [{"filter": "datum.s != 'e'"}],
                 "mark": {"type": "line", "strokeWidth": 0.9, "interpolate": "monotone"},
                 "encoding": {
                   "x": {"field": "x", "type": "quantitative", "scale": {"domain": [-3.5, 3.5], "nice": false, "zero": false}, "axis": {"title": "y/d", "values": [-3,-2,-1,0,1,2,3], "format": "d", "tickSize": 2.5, "labelPadding": 0, "titlePadding": 0}},
                   "y": {"field": "v", "type": "quantitative", "scale": {"domain": [-0.3, 0.3], "nice": false, "zero": false}, "axis": {"title": "V/Uref", "values": [-0.25,-0.2,-0.15,-0.1,-0.05,0,0.05,0.1,0.15,0.2,0.25], "labelExpr": "abs(datum.value*5-round(datum.value*5))<0.01 ? (abs(datum.value)<0.01 ? '0' : format(datum.value,'.1f')) : ''", "tickSize": {"condition": {"test": "abs(datum.value*5-round(datum.value*5))<0.01", "value": 2.5}, "value": 1.2}, "labelPadding": 0, "titlePadding": -8}},
                   "color": {"field": "s", "type": "nominal", "scale": {"domain": ["w","k","v","e"], "range": ["#555","#999","#222","#333"]}, "legend": null},
                   "strokeDash": {"field": "s", "type": "nominal", "scale": {"domain": ["w","k","v","e"], "range": [[3,2],[6,2,1,2],[1,0],[1,0]]}, "legend": null}
                 }},
                {"transform": [{"filter": "datum.s == 'e'"}],
                 "mark": {"type": "point", "shape": "circle", "filled": false, "size": 24, "strokeWidth": 0.75, "color": "#333"},
                 "encoding": {
                   "x": {"field": "x", "type": "quantitative", "scale": {"domain": [-3.5, 3.5], "nice": false, "zero": false}, "axis": {"orient": "bottom", "values": [-3.4,-3.2,-2.8,-2.6,-2.4,-2.2,-1.8,-1.6,-1.4,-1.2,-0.8,-0.6,-0.4,-0.2,0.2,0.4,0.6,0.8,1.2,1.4,1.6,1.8,2.2,2.4,2.6,2.8,3.2,3.4], "labels": false, "title": null, "domain": false, "tickSize": 1.3}},
                   "y": {"field": "v", "type": "quantitative", "scale": {"domain": [-0.3, 0.3], "nice": false, "zero": false}, "axis": null}
                 }}
              ],
              "resolve": {"axis": {"x": "independent", "y": "independent"}}
            },
            {
              "data": {"name": "p42"}, "width": 134, "height": 107,
              "title": {"text": "x/d=6"},
              "layer": [
                {"transform": [{"filter": "datum.s != 'e'"}],
                 "mark": {"type": "line", "strokeWidth": 0.9, "interpolate": "monotone"},
                 "encoding": {
                   "x": {"field": "x", "type": "quantitative", "scale": {"domain": [-3.5, 3.5], "nice": false, "zero": false}, "axis": {"title": "y/d", "values": [-3,-2,-1,0,1,2,3], "format": "d", "tickSize": 2.5, "labelPadding": 0, "titlePadding": 0}},
                   "y": {"field": "v", "type": "quantitative", "scale": {"domain": [-0.3, 0.3], "nice": false, "zero": false}, "axis": {"title": "V/Uref", "values": [-0.25,-0.2,-0.15,-0.1,-0.05,0,0.05,0.1,0.15,0.2,0.25], "labelExpr": "abs(datum.value*5-round(datum.value*5))<0.01 ? (abs(datum.value)<0.01 ? '0' : format(datum.value,'.1f')) : ''", "tickSize": {"condition": {"test": "abs(datum.value*5-round(datum.value*5))<0.01", "value": 2.5}, "value": 1.2}, "labelPadding": 0, "titlePadding": -8}},
                   "color": {"field": "s", "type": "nominal", "scale": {"domain": ["w","k","v","e"], "range": ["#555","#999","#222","#333"]}, "legend": null},
                   "strokeDash": {"field": "s", "type": "nominal", "scale": {"domain": ["w","k","v","e"], "range": [[3,2],[6,2,1,2],[1,0],[1,0]]}, "legend": null}
                 }},
                {"transform": [{"filter": "datum.s == 'e'"}],
                 "mark": {"type": "point", "shape": "circle", "filled": false, "size": 24, "strokeWidth": 0.75, "color": "#333"},
                 "encoding": {
                   "x": {"field": "x", "type": "quantitative", "scale": {"domain": [-3.5, 3.5], "nice": false, "zero": false}, "axis": {"orient": "bottom", "values": [-3.4,-3.2,-2.8,-2.6,-2.4,-2.2,-1.8,-1.6,-1.4,-1.2,-0.8,-0.6,-0.4,-0.2,0.2,0.4,0.6,0.8,1.2,1.4,1.6,1.8,2.2,2.4,2.6,2.8,3.2,3.4], "labels": false, "title": null, "domain": false, "tickSize": 1.3}},
                   "y": {"field": "v", "type": "quantitative", "scale": {"domain": [-0.3, 0.3], "nice": false, "zero": false}, "axis": {"orient": "right", "title": "z/d=4", "domain": false, "ticks": false, "labels": false, "titleFont": "Liberation Serif", "titleFontSize": 14, "titleFontWeight": "normal", "titleColor": "#111", "titleAngle": 90, "titlePadding": 4}}
                 }}
              ],
              "resolve": {"axis": {"x": "independent", "y": "independent"}}
            }
          ]
        },
        {
          "spacing": 9,
          "resolve": {"scale": {"color": "independent", "strokeDash": "independent", "shape": "independent"}},
          "hconcat": [
            {
              "data": {"name": "p51"}, "width": 133, "height": 107,
              "layer": [
                {"transform": [{"filter": "datum.s != 'e'"}],
                 "mark": {"type": "line", "strokeWidth": 0.9, "interpolate": "monotone"},
                 "encoding": {
                   "x": {"field": "x", "type": "quantitative", "scale": {"domain": [-3.5, 3.5], "nice": false, "zero": false}, "axis": {"title": "y/d", "values": [-3,-2,-1,0,1,2,3], "format": "d", "tickSize": 2.5, "labelPadding": 0, "titlePadding": 0}},
                   "y": {"field": "v", "type": "quantitative", "scale": {"domain": [-0.3, 0.3], "nice": false, "zero": false}, "axis": {"title": "V/Uref", "values": [-0.25,-0.2,-0.15,-0.1,-0.05,0,0.05,0.1,0.15,0.2,0.25], "labelExpr": "abs(datum.value*5-round(datum.value*5))<0.01 ? (abs(datum.value)<0.01 ? '0' : format(datum.value,'.1f')) : ''", "tickSize": {"condition": {"test": "abs(datum.value*5-round(datum.value*5))<0.01", "value": 2.5}, "value": 1.2}, "labelPadding": 0, "titlePadding": -8}},
                   "color": {"field": "s", "type": "nominal", "scale": {"domain": ["w","k","v","e"], "range": ["#555","#999","#222","#333"]}, "legend": null},
                   "strokeDash": {"field": "s", "type": "nominal", "scale": {"domain": ["w","k","v","e"], "range": [[3,2],[6,2,1,2],[1,0],[1,0]]}, "legend": null}
                 }},
                {"transform": [{"filter": "datum.s == 'e'"}],
                 "mark": {"type": "point", "shape": "circle", "filled": false, "size": 24, "strokeWidth": 0.75, "color": "#333"},
                 "encoding": {
                   "x": {"field": "x", "type": "quantitative", "scale": {"domain": [-3.5, 3.5], "nice": false, "zero": false}, "axis": {"orient": "bottom", "values": [-3.4,-3.2,-2.8,-2.6,-2.4,-2.2,-1.8,-1.6,-1.4,-1.2,-0.8,-0.6,-0.4,-0.2,0.2,0.4,0.6,0.8,1.2,1.4,1.6,1.8,2.2,2.4,2.6,2.8,3.2,3.4], "labels": false, "title": null, "domain": false, "tickSize": 1.3}},
                   "y": {"field": "v", "type": "quantitative", "scale": {"domain": [-0.3, 0.3], "nice": false, "zero": false}, "axis": null}
                 }}
              ],
              "resolve": {"axis": {"x": "independent", "y": "independent"}}
            },
            {
              "data": {"name": "p52"}, "width": 134, "height": 107,
              "layer": [
                {"transform": [{"filter": "datum.s != 'e'"}],
                 "mark": {"type": "line", "strokeWidth": 0.9, "interpolate": "monotone"},
                 "encoding": {
                   "x": {"field": "x", "type": "quantitative", "scale": {"domain": [-3.5, 3.5], "nice": false, "zero": false}, "axis": {"title": "y/d", "values": [-3,-2,-1,0,1,2,3], "format": "d", "tickSize": 2.5, "labelPadding": 0, "titlePadding": 0}},
                   "y": {"field": "v", "type": "quantitative", "scale": {"domain": [-0.3, 0.3], "nice": false, "zero": false}, "axis": {"title": "V/Uref", "values": [-0.25,-0.2,-0.15,-0.1,-0.05,0,0.05,0.1,0.15,0.2,0.25], "labelExpr": "abs(datum.value*5-round(datum.value*5))<0.01 ? (abs(datum.value)<0.01 ? '0' : format(datum.value,'.1f')) : ''", "tickSize": {"condition": {"test": "abs(datum.value*5-round(datum.value*5))<0.01", "value": 2.5}, "value": 1.2}, "labelPadding": 0, "titlePadding": -8}},
                   "color": {"field": "s", "type": "nominal", "scale": {"domain": ["w","k","v","e"], "range": ["#555","#999","#222","#333"]}, "legend": null},
                   "strokeDash": {"field": "s", "type": "nominal", "scale": {"domain": ["w","k","v","e"], "range": [[3,2],[6,2,1,2],[1,0],[1,0]]}, "legend": null}
                 }},
                {"transform": [{"filter": "datum.s == 'e'"}],
                 "mark": {"type": "point", "shape": "circle", "filled": false, "size": 24, "strokeWidth": 0.75, "color": "#333"},
                 "encoding": {
                   "x": {"field": "x", "type": "quantitative", "scale": {"domain": [-3.5, 3.5], "nice": false, "zero": false}, "axis": {"orient": "bottom", "values": [-3.4,-3.2,-2.8,-2.6,-2.4,-2.2,-1.8,-1.6,-1.4,-1.2,-0.8,-0.6,-0.4,-0.2,0.2,0.4,0.6,0.8,1.2,1.4,1.6,1.8,2.2,2.4,2.6,2.8,3.2,3.4], "labels": false, "title": null, "domain": false, "tickSize": 1.3}},
                   "y": {"field": "v", "type": "quantitative", "scale": {"domain": [-0.3, 0.3], "nice": false, "zero": false}, "axis": {"orient": "right", "title": "z/d=2．5", "domain": false, "ticks": false, "labels": false, "titleFont": "Liberation Serif", "titleFontSize": 14, "titleFontWeight": "normal", "titleColor": "#111", "titleAngle": 90, "titlePadding": 4}}
                 }}
              ],
              "resolve": {"axis": {"x": "independent", "y": "independent"}}
            }
          ]
        },
        {
          "spacing": 9,
          "resolve": {"scale": {"color": "independent", "strokeDash": "independent", "shape": "independent"}},
          "hconcat": [
            {
              "data": {"name": "p61"}, "width": 133, "height": 107,
              "layer": [
                {"transform": [{"filter": "datum.s != 'e'"}],
                 "mark": {"type": "line", "strokeWidth": 0.9, "interpolate": "monotone"},
                 "encoding": {
                   "x": {"field": "x", "type": "quantitative", "scale": {"domain": [-3.5, 3.5], "nice": false, "zero": false}, "axis": {"title": "y/d", "values": [-3,-2,-1,0,1,2,3], "format": "d", "tickSize": 2.5, "labelPadding": 0, "titlePadding": 0}},
                   "y": {"field": "v", "type": "quantitative", "scale": {"domain": [-0.3, 0.3], "nice": false, "zero": false}, "axis": {"title": "V/Uref", "values": [-0.25,-0.2,-0.15,-0.1,-0.05,0,0.05,0.1,0.15,0.2,0.25], "labelExpr": "abs(datum.value*5-round(datum.value*5))<0.01 ? (abs(datum.value)<0.01 ? '0' : format(datum.value,'.1f')) : ''", "tickSize": {"condition": {"test": "abs(datum.value*5-round(datum.value*5))<0.01", "value": 2.5}, "value": 1.2}, "labelPadding": 0, "titlePadding": -8}},
                   "color": {"field": "s", "type": "nominal", "scale": {"domain": ["w","k","v","e"], "range": ["#555","#999","#222","#333"]}, "legend": null},
                   "strokeDash": {"field": "s", "type": "nominal", "scale": {"domain": ["w","k","v","e"], "range": [[3,2],[6,2,1,2],[1,0],[1,0]]}, "legend": null}
                 }},
                {"transform": [{"filter": "datum.s == 'e'"}],
                 "mark": {"type": "point", "shape": "circle", "filled": false, "size": 24, "strokeWidth": 0.75, "color": "#333"},
                 "encoding": {
                   "x": {"field": "x", "type": "quantitative", "scale": {"domain": [-3.5, 3.5], "nice": false, "zero": false}, "axis": {"orient": "bottom", "values": [-3.4,-3.2,-2.8,-2.6,-2.4,-2.2,-1.8,-1.6,-1.4,-1.2,-0.8,-0.6,-0.4,-0.2,0.2,0.4,0.6,0.8,1.2,1.4,1.6,1.8,2.2,2.4,2.6,2.8,3.2,3.4], "labels": false, "title": null, "domain": false, "tickSize": 1.3}},
                   "y": {"field": "v", "type": "quantitative", "scale": {"domain": [-0.3, 0.3], "nice": false, "zero": false}, "axis": null}
                 }}
              ],
              "resolve": {"axis": {"x": "independent", "y": "independent"}}
            },
            {
              "data": {"name": "p62"}, "width": 134, "height": 107,
              "layer": [
                {"transform": [{"filter": "datum.s != 'e'"}],
                 "mark": {"type": "line", "strokeWidth": 0.9, "interpolate": "monotone"},
                 "encoding": {
                   "x": {"field": "x", "type": "quantitative", "scale": {"domain": [-3.5, 3.5], "nice": false, "zero": false}, "axis": {"title": "y/d", "values": [-3,-2,-1,0,1,2,3], "format": "d", "tickSize": 2.5, "labelPadding": 0, "titlePadding": 0}},
                   "y": {"field": "v", "type": "quantitative", "scale": {"domain": [-0.3, 0.3], "nice": false, "zero": false}, "axis": {"title": "V/Uref", "values": [-0.25,-0.2,-0.15,-0.1,-0.05,0,0.05,0.1,0.15,0.2,0.25], "labelExpr": "abs(datum.value*5-round(datum.value*5))<0.01 ? (abs(datum.value)<0.01 ? '0' : format(datum.value,'.1f')) : ''", "tickSize": {"condition": {"test": "abs(datum.value*5-round(datum.value*5))<0.01", "value": 2.5}, "value": 1.2}, "labelPadding": 0, "titlePadding": -8}},
                   "color": {"field": "s", "type": "nominal", "scale": {"domain": ["w","k","v","e"], "range": ["#555","#999","#222","#333"]}, "legend": null},
                   "strokeDash": {"field": "s", "type": "nominal", "scale": {"domain": ["w","k","v","e"], "range": [[3,2],[6,2,1,2],[1,0],[1,0]]}, "legend": null}
                 }},
                {"transform": [{"filter": "datum.s == 'e'"}],
                 "mark": {"type": "point", "shape": "circle", "filled": false, "size": 24, "strokeWidth": 0.75, "color": "#333"},
                 "encoding": {
                   "x": {"field": "x", "type": "quantitative", "scale": {"domain": [-3.5, 3.5], "nice": false, "zero": false}, "axis": {"orient": "bottom", "values": [-3.4,-3.2,-2.8,-2.6,-2.4,-2.2,-1.8,-1.6,-1.4,-1.2,-0.8,-0.6,-0.4,-0.2,0.2,0.4,0.6,0.8,1.2,1.4,1.6,1.8,2.2,2.4,2.6,2.8,3.2,3.4], "labels": false, "title": null, "domain": false, "tickSize": 1.3}},
                   "y": {"field": "v", "type": "quantitative", "scale": {"domain": [-0.3, 0.3], "nice": false, "zero": false}, "axis": {"orient": "right", "title": "z/d=1", "domain": false, "ticks": false, "labels": false, "titleFont": "Liberation Serif", "titleFontSize": 14, "titleFontWeight": "normal", "titleColor": "#111", "titleAngle": 90, "titlePadding": 4}}
                 }}
              ],
              "resolve": {"axis": {"x": "independent", "y": "independent"}}
            }
          ]
        }
      ]
    }
  ]
}
